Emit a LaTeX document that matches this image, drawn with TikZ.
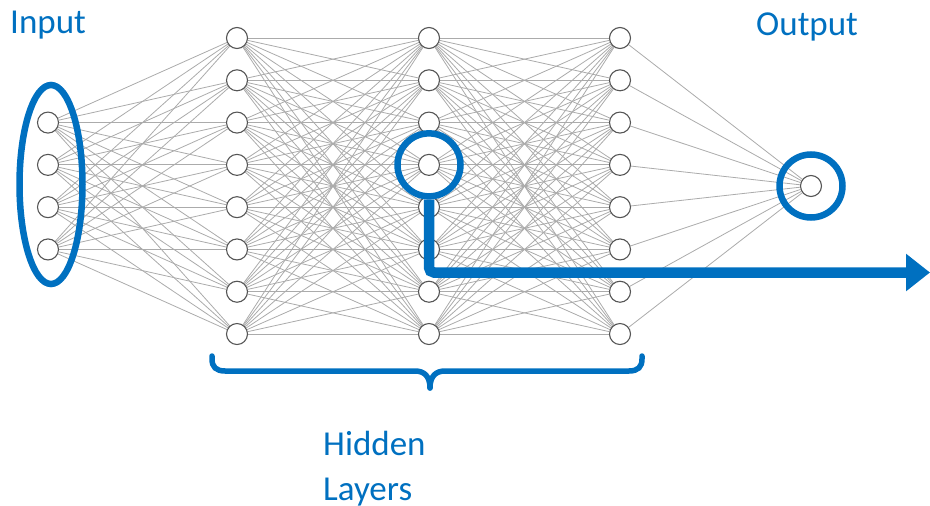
\documentclass[tikz,border=0pt]{standalone}
\usepackage{fontspec}
\setmainfont{Carlito}
\usetikzlibrary{shapes.geometric,arrows.meta,backgrounds}
\definecolor{myblue}{HTML}{0070C0}
\definecolor{edgegray}{HTML}{ABABAB}
\definecolor{nodegray}{HTML}{555555}
\begin{document}
\begin{tikzpicture}[x=1pt,y=-1pt,
 neuron/.style={circle,draw=nodegray,line width=1.1pt,fill=white,minimum size=21pt,inner sep=0pt},
 link/.style={draw=edgegray,line width=0.8pt},
 hl/.style={draw=myblue,line width=6.5pt,inner sep=0pt},
 lab/.style={text=myblue,font=\fontsize{35}{42}\selectfont,anchor=base west,inner sep=0pt}]
\useasboundingbox (0,0) rectangle (930,506);
% neurons
\foreach \i in {1,...,4} \node[neuron] (in\i) at (48,{38+(\i+1)*42.29}) {};
\foreach \l/\x in {1/237,2/429,3/620}
  \foreach \i in {1,...,8} \node[neuron] (h\l\i) at (\x,{38+(\i-1)*42.29}) {};
\node[neuron] (out) at (811,186) {};
% links
\begin{scope}[on background layer]
\foreach \i in {1,...,4} \foreach \j in {1,...,8} \draw[link] (in\i) -- (h1\j);
\foreach \i in {1,...,8} \foreach \j in {1,...,8} {
  \draw[link] (h1\i) -- (h2\j);
  \draw[link] (h2\i) -- (h3\j);
}
\foreach \i in {1,...,8} \draw[link] (h3\i) -- (out);
\end{scope}
% highlights
\node[hl,ellipse,minimum width=63pt,minimum height=199pt] (inring) at (51,184.5) {};
\node[hl,circle,minimum size=63pt] (ring) at (h24) {};
\node[hl,circle,minimum size=63pt] (outring) at (out) {};
\coordinate (arrowend) at (930,272.5);
\draw[myblue,line width=10.5pt,rounded corners=5pt,-{Triangle[length=24pt,width=36pt]}] (ring.south) |- (arrowend);
% brace
\draw[myblue,line width=5.5pt,line cap=round]
  (212,356) -- (212,359) .. controls (212,367) and (216,371) .. (225,371) -- (415,371)
  .. controls (424,371) and (430,376) .. (430,388);
\draw[myblue,line width=5.5pt,line cap=round]
  (642,356) -- (642,359) .. controls (642,367) and (638,371) .. (629,371) -- (445,371)
  .. controls (436,371) and (430,376) .. (430,388);
% labels
\node[lab] (input) at (10,33) {Input};
\node[lab] (output) at (756,35) {Output};
\node[lab] (hidden) at (323,455) {Hidden};
\node[lab] (layers) at (323,500) {Layers};
\end{tikzpicture}
\end{document}
